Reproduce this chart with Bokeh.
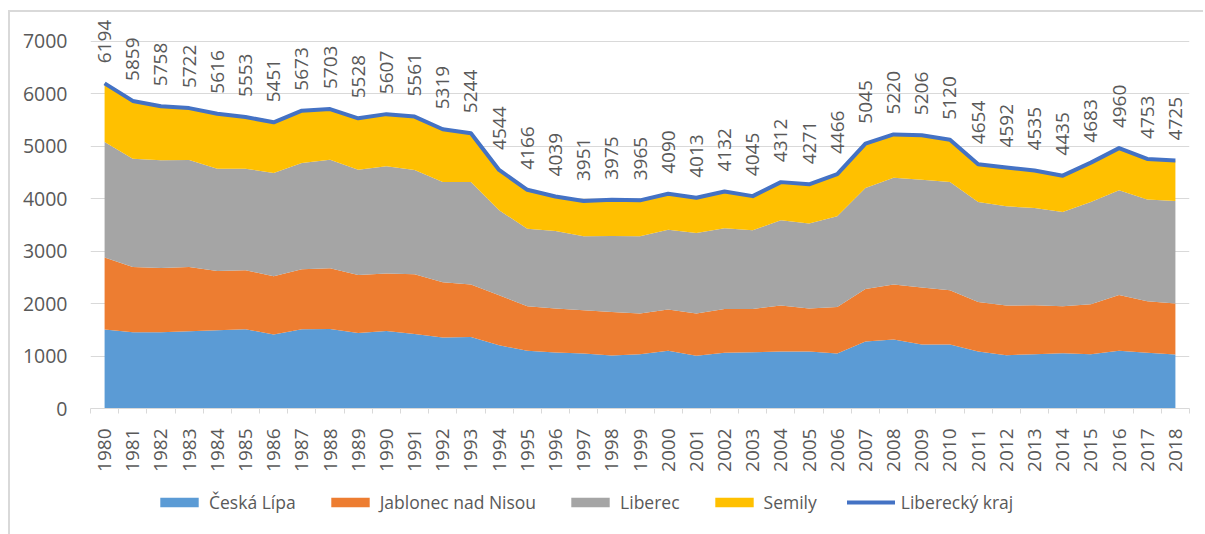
from math import pi
from bokeh.plotting import figure
from bokeh.layouts import column
from bokeh.models import ColumnDataSource, Range1d, FixedTicker, Legend, LegendItem
from bokeh.core.properties import value
from bokeh.embed import file_html
from bokeh.resources import INLINE

years = list(range(1980, 2019))
ceska_lipa = [1504, 1453, 1453, 1472, 1491, 1510, 1409, 1510, 1516, 1440, 1478, 1420, 1352, 1364,
              1206, 1098, 1066, 1047, 1009, 1034, 1098, 1003, 1060, 1072, 1085, 1085, 1047, 1275,
              1313, 1218, 1218, 1085, 1015, 1034, 1053, 1034, 1098, 1060, 1028]
jablonec = [1370, 1244, 1225, 1225, 1130, 1123, 1110, 1142, 1155, 1104, 1092, 1137, 1053, 996,
            951, 850, 838, 825, 831, 774, 787, 805, 837, 825, 876, 819, 888, 1003,
            1047, 1085, 1035, 945, 946, 933, 895, 952, 1066, 983, 971]
liberec = [2202, 2062, 2049, 2038, 1948, 1936, 1967, 2024, 2069, 2006, 2043, 1988, 1910, 1955,
           1618, 1478, 1478, 1408, 1447, 1472, 1522, 1536, 1536, 1498, 1624, 1618, 1726, 1922,
           2037, 2056, 2062, 1904, 1890, 1853, 1796, 1948, 1992, 1936, 1954]
semily = [1118, 1100, 1031, 987, 1047, 984, 965, 997, 963, 978, 994, 1016, 1004, 929,
          769, 740, 657, 671, 688, 685, 683, 669, 699, 650, 727, 749, 805, 845,
          823, 847, 805, 720, 741, 715, 691, 749, 804, 774, 772]
kraj = [6194, 5859, 5758, 5722, 5616, 5553, 5451, 5673, 5703, 5528, 5607, 5561, 5319, 5244,
        4544, 4166, 4039, 3951, 3975, 3965, 4090, 4013, 4132, 4045, 4312, 4271, 4466, 5045,
        5220, 5206, 5120, 4654, 4592, 4535, 4435, 4683, 4960, 4753, 4725]
series_names = ["Česká Lípa", "Jablonec nad Nisou", "Liberec", "Semily"]
colors = ["#5B9BD5", "#ED7D31", "#A5A5A5", "#FFC000"]
line_name = "Liberecký kraj"
line_color = "#4472C4"
y_ticks = [0, 1000, 2000, 3000, 4000, 5000, 6000, 7000]

FONT = "Open Sans"
TXT = "#595959"

src = ColumnDataSource(dict(x=years, cl=ceska_lipa, jb=jablonec, lb=liberec, sm=semily,
                            total=kraj, lab=[str(v) for v in kraj]))

# ---- main chart ----
p = figure(width=1193, height=466, output_backend="svg", toolbar_location=None,
           x_range=Range1d(years[0] - 0.5, years[-1] + 0.5), y_range=Range1d(0, 7505),
           min_border_left=80, min_border_right=14, min_border_top=2, min_border_bottom=70)
p.outline_line_color = None
p.background_fill_color = "white"
p.border_fill_color = "white"

areas = p.varea_stack(stackers=["cl", "jb", "lb", "sm"], x="x", color=colors, source=src)
ln = p.line("x", "total", source=src, line_color=line_color, line_width=4, line_join="round")
p.text("x", "total", text="lab", source=src, angle=pi / 2, text_align="left", text_baseline="middle",
       y_offset=-20, text_font=value(FONT), text_font_size="19px", text_color=TXT)

p.xgrid.visible = False
p.ygrid.ticker = FixedTicker(ticks=y_ticks)
p.ygrid.grid_line_color = "#d9d9d9"
p.ygrid.grid_line_width = 1

ya = p.yaxis[0]
ya.ticker = FixedTicker(ticks=y_ticks)
ya.axis_line_color = None
ya.major_tick_line_color = None
ya.minor_tick_line_color = None
ya.major_label_standoff = 17
ya.major_label_text_font = FONT
ya.major_label_text_font_size = "19.5px"
ya.major_label_text_color = TXT

xa = p.xaxis[0]
xa.ticker = FixedTicker(ticks=years, minor_ticks=[y - 0.5 for y in years] + [years[-1] + 0.5])
xa.axis_line_color = "#d9d9d9"
xa.major_tick_line_color = None
xa.major_tick_out = 0
xa.major_tick_in = 0
xa.minor_tick_line_color = "#d9d9d9"
xa.minor_tick_out = 5
xa.minor_tick_in = 0
xa.major_label_orientation = pi / 2
xa.major_label_standoff = 15
xa.major_label_text_font = FONT
xa.major_label_text_font_size = "19px"
xa.major_label_text_color = TXT

# ---- legend strip (its swatch renderers lie outside the visible range) ----
lg = figure(width=1193, height=56, output_backend="svg", toolbar_location=None,
            x_range=Range1d(0, 1), y_range=Range1d(0, 1),
            min_border_left=0, min_border_right=0, min_border_top=0, min_border_bottom=0)
lg.axis.visible = False
lg.grid.visible = False
lg.outline_line_color = None
lg.border_fill_color = "white"
swatch = ColumnDataSource(dict(x=[5, 6], y1=[5, 5], y2=[6, 6]))
lg_renderers = [lg.varea(x="x", y1="y1", y2="y2", color=c, source=swatch) for c in colors]
lg_line = lg.line(x="x", y="y1", source=swatch, line_color=line_color, line_width=4, line_cap="round")

items = [LegendItem(label=n, renderers=[r], index=0) for n, r in zip(series_names, lg_renderers)]
items.append(LegendItem(label=line_name, renderers=[lg_line], index=0))
legend = Legend(items=items, orientation="horizontal", location=(65, 20),
                glyph_width=48, glyph_height=12, label_standoff=6, spacing=30,
                padding=0, margin=0, border_line_color=None, background_fill_alpha=0,
                label_text_font=FONT, label_text_font_size="17.5px", label_text_color=TXT)
lg.add_layout(legend, "center")

layout = column(p, lg, spacing=0)
layout.styles = {"margin-left": "8px", "margin-top": "10px",
                 "border-left": "2px solid #d9d9d9", "border-top": "2px solid #d9d9d9"}

open("out.html", "w").write(file_html(layout, INLINE))
